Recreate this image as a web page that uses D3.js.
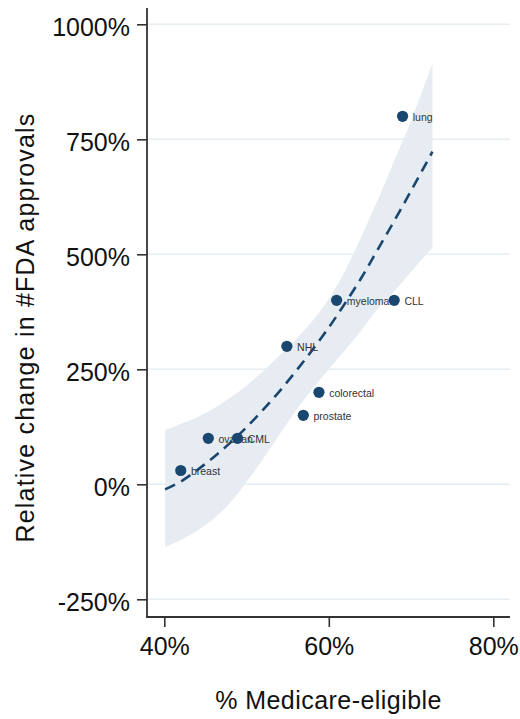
<!DOCTYPE html>
<html>
<head>
<meta charset="utf-8">
<script src="https://cdn.jsdelivr.net/npm/d3@7/dist/d3.min.js"></script>
<style>
  html, body { margin: 0; padding: 0; background: #fff; }
  svg { display: block; font-family: "Liberation Sans", Arial, Helvetica, sans-serif; }
</style>
</head>
<body>
<svg id="chart" width="520" height="719"></svg>
<script>
// Cancer types: share of patients eligible for Medicare vs. relative change in FDA approvals
const cancers = ["breast", "ovarian", "CML", "NHL", "prostate", "colorectal", "myeloma", "CLL", "lung"];
const medicareShare = [42.0, 45.35, 48.9, 54.9, 56.9, 58.8, 60.95, 67.95, 68.97];
const approvalChange = [30, 100, 100, 300, 150, 200, 400, 400, 800];

// Fitted curve with its 95% confidence band
const fitX = [40.1, 42, 44, 46, 48, 50, 52, 54, 56, 58, 60, 62, 64, 66, 68, 70, 72.6];
const fitY = [-11, 6, 31, 59, 90, 124, 162, 202, 246, 292, 341, 394, 450, 512, 574, 638, 723];
const ciUpper = [118, 131, 146, 165, 188, 215, 246, 280, 315, 355, 403, 465, 540, 620, 705, 790, 915];
const ciLower = [-136, -121, -101, -75, -40, 5, 55, 108, 160, 207, 250, 292, 336, 382, 420, 462, 514];

// Axis ticks
const xTicks = [40, 60, 80];
const yTicks = [-250, 0, 250, 500, 750, 1000];

const navy = "#1a476f";
const svg = d3.select("#chart");

// Plot frame
const plotLeft = 147, plotRight = 510, plotTop = 8, plotBottom = 617;

const x = d3.scaleLinear().domain([40, 80]).range([164.3, 493.3]);
const y = d3.scaleLinear().domain([-250, 1000]).range([599.3, 24.3]);

// Horizontal grid lines
svg.append("g")
  .selectAll("line")
  .data(yTicks)
  .join("line")
  .attr("x1", plotLeft).attr("x2", plotRight)
  .attr("y1", d => y(d)).attr("y2", d => y(d))
  .attr("stroke", "#e6eef1")
  .attr("stroke-width", 1.5);

// Confidence band
const band = fitX.map((xv, i) => ({ x: xv, lo: ciLower[i], hi: ciUpper[i] }));
svg.append("path")
  .datum(band)
  .attr("fill", "#e6ecf1")
  .attr("d", d3.area()
    .x(d => x(d.x))
    .y0(d => y(d.lo))
    .y1(d => y(d.hi))
    .curve(d3.curveCatmullRom.alpha(0.5)));

// Points and their labels, drawn in order
const pts = cancers.map((c, i) => ({ name: c, x: medicareShare[i], y: approvalChange[i] }))
  .sort((a, b) => a.x - b.x);
const pg = svg.append("g");
pts.forEach(p => {
  const g = pg.append("g");
  g.append("circle")
    .attr("cx", x(p.x)).attr("cy", y(p.y)).attr("r", 5.6)
    .attr("fill", navy);
  g.append("text")
    .attr("x", x(p.x) + 10.2).attr("y", y(p.y))
    .attr("dy", "0.42em")
    .attr("font-size", 10.5)
    .attr("fill", "#333")
    .text(p.name);
});

// Fitted curve (dashed)
const fit = fitX.map((xv, i) => ({ x: xv, y: fitY[i] }));
svg.append("path")
  .datum(fit)
  .attr("fill", "none")
  .attr("stroke", navy)
  .attr("stroke-width", 2.6)
  .attr("stroke-dasharray", "11 7")
  .attr("d", d3.line().x(d => x(d.x)).y(d => y(d.y)).curve(d3.curveCatmullRom.alpha(0.5)));

// Y axis
const yAxis = svg.append("g")
  .attr("transform", `translate(${plotLeft},0)`)
  .call(d3.axisLeft(y).tickValues(yTicks).tickSize(10).tickSizeOuter(0).tickPadding(7)
    .tickFormat(d => d + "%"));
yAxis.select(".domain").remove();
yAxis.selectAll(".tick line").attr("stroke", "#333").attr("stroke-width", 1.6);
yAxis.selectAll(".tick text").attr("font-size", 25).attr("fill", "#111")
  .attr("font-family", "Liberation Sans, Arial, sans-serif").attr("dy", "0.45em");
svg.append("line")
  .attr("x1", plotLeft).attr("x2", plotLeft)
  .attr("y1", plotTop).attr("y2", plotBottom)
  .attr("stroke", "#333").attr("stroke-width", 1.8);

// X axis
const xAxis = svg.append("g")
  .attr("transform", `translate(0,${plotBottom})`)
  .call(d3.axisBottom(x).tickValues(xTicks).tickSize(10).tickSizeOuter(0).tickPadding(10)
    .tickFormat(d => d + "%"));
xAxis.select(".domain").remove();
xAxis.selectAll(".tick line").attr("stroke", "#333").attr("stroke-width", 1.6);
xAxis.selectAll(".tick text").attr("font-size", 25).attr("fill", "#111")
  .attr("font-family", "Liberation Sans, Arial, sans-serif");
svg.append("line")
  .attr("x1", plotLeft - 0.9).attr("x2", plotRight)
  .attr("y1", plotBottom).attr("y2", plotBottom)
  .attr("stroke", "#333").attr("stroke-width", 1.8);

// Axis titles
svg.append("text")
  .attr("x", 328.5).attr("y", 709)
  .attr("text-anchor", "middle")
  .attr("font-size", 25)
  .attr("letter-spacing", "0.45px")
  .attr("fill", "#111")
  .text("% Medicare-eligible");

svg.append("text")
  .attr("transform", "translate(34,327.5) rotate(-90)")
  .attr("text-anchor", "middle")
  .attr("font-size", 25)
  .attr("letter-spacing", "1.2px")
  .attr("fill", "#111")
  .text("Relative change in #FDA approvals");
</script>
</body>
</html>
